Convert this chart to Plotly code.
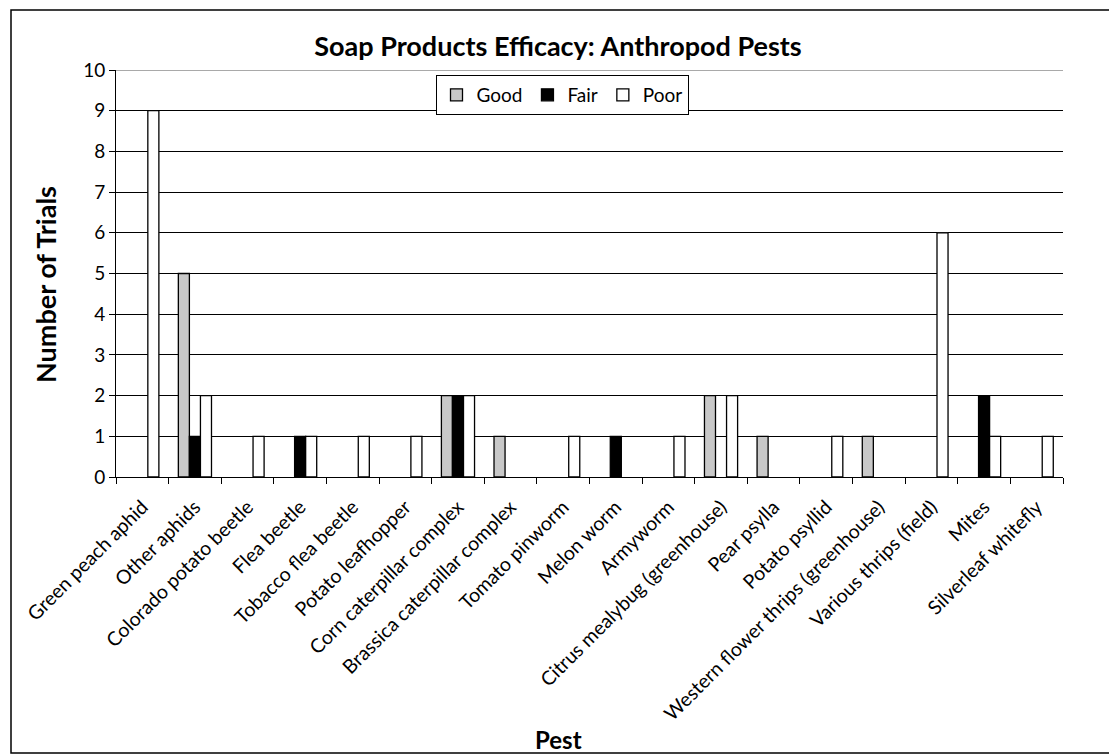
import plotly.graph_objects as go

categories = ["Green peach aphid", "Other aphids", "Colorado potato beetle", "Flea beetle",
              "Tobacco flea beetle", "Potato leafhopper", "Corn caterpillar complex",
              "Brassica caterpillar complex", "Tomato pinworm", "Melon worm", "Armyworm",
              "Citrus mealybug (greenhouse)", "Pear psylla", "Potato psyllid",
              "Western flower thrips (greenhouse)", "Various thrips (field)", "Mites",
              "Silverleaf whitefly"]
good = [0, 5, 0, 0, 0, 0, 2, 1, 0, 0, 0, 2, 1, 0, 1, 0, 0, 0]
fair = [0, 1, 0, 1, 0, 0, 2, 0, 0, 1, 0, 0, 0, 0, 0, 0, 2, 0]
poor = [9, 2, 1, 1, 1, 1, 2, 0, 1, 0, 1, 2, 0, 1, 0, 6, 1, 1]
y_ticks = list(range(0, 11))

FONT = "Lato, Open Sans, sans-serif"
OFF = 8  # page body margin
L, T, PW, PH = 116 - OFF, 70 - OFF, 947, 407


def px_x(px):
    return (px - OFF - L) / PW


def px_y(py):
    return (T + PH - (py - OFF)) / PH


fig = go.Figure()
for name, vals, col in [("Good", good, "#c8c8c8"), ("Fair", fair, "#000000"), ("Poor", poor, "#ffffff")]:
    fig.add_trace(go.Bar(name=name, x=categories, y=[v if v else None for v in vals],
                         marker=dict(color=col, line=dict(color="black", width=1.3))))

fig.update_layout(
    width=1117 - OFF, height=754 - OFF,
    margin=dict(l=L, r=1117 - OFF - L - PW, t=T, b=754 - OFF - T - PH),
    paper_bgcolor="white", plot_bgcolor="white",
    barmode="group", bargap=0.37, bargroupgap=0,
    font=dict(family=FONT, color="black", size=18),
    title=dict(text="<b>Soap Products Efficacy: Anthropod Pests</b>", x=px_x(558),
               xanchor="center", xref="paper",
               y=1 - (47 - OFF) / (754 - OFF), yanchor="middle", font=dict(size=27, family=FONT)),
    legend=dict(orientation="h", x=px_x(562), xanchor="center", y=px_y(75), yanchor="top",
                bordercolor="black", borderwidth=1, bgcolor="white",
                font=dict(size=19, family=FONT), itemwidth=30, traceorder="normal"),
    showlegend=True,
)
fig.update_yaxes(range=[0, 10], tickvals=y_ticks, showgrid=True, gridcolor="black", gridwidth=1,
                 showline=True, linecolor="black", linewidth=1, ticks="outside", ticklen=6,
                 tickcolor="black", tickfont=dict(size=19), zeroline=False)
fig.update_xaxes(showline=True, linecolor="black", linewidth=1, ticks="outside", ticklen=6,
                 tickcolor="black", tickson="boundaries", tickangle=-45, tickfont=dict(size=19.5),
                 ticklabelstandoff=10)

fig.add_shape(type="line", xref="paper", yref="y", x0=0, x1=1, y0=10, y1=10,
              line=dict(color="#8c8c8c", width=1.5), layer="above")
fig.add_annotation(text="<b>Number of Trials</b>", xref="paper", yref="paper",
                   x=px_x(45), y=px_y(285), textangle=-90, showarrow=False,
                   font=dict(size=27, family=FONT), xanchor="center", yanchor="middle")
fig.add_annotation(text="<b>Pest</b>", xref="paper", yref="paper",
                   x=px_x(558), y=px_y(739), showarrow=False,
                   font=dict(size=24, family=FONT), xanchor="center", yanchor="middle")
fig.add_shape(type="rect", xref="paper", yref="paper",
              x0=px_x(11), x1=px_x(1113),
              y0=px_y(753), y1=px_y(10),
              line=dict(color="black", width=1.5), layer="below")

fig.write_html("out.html")
